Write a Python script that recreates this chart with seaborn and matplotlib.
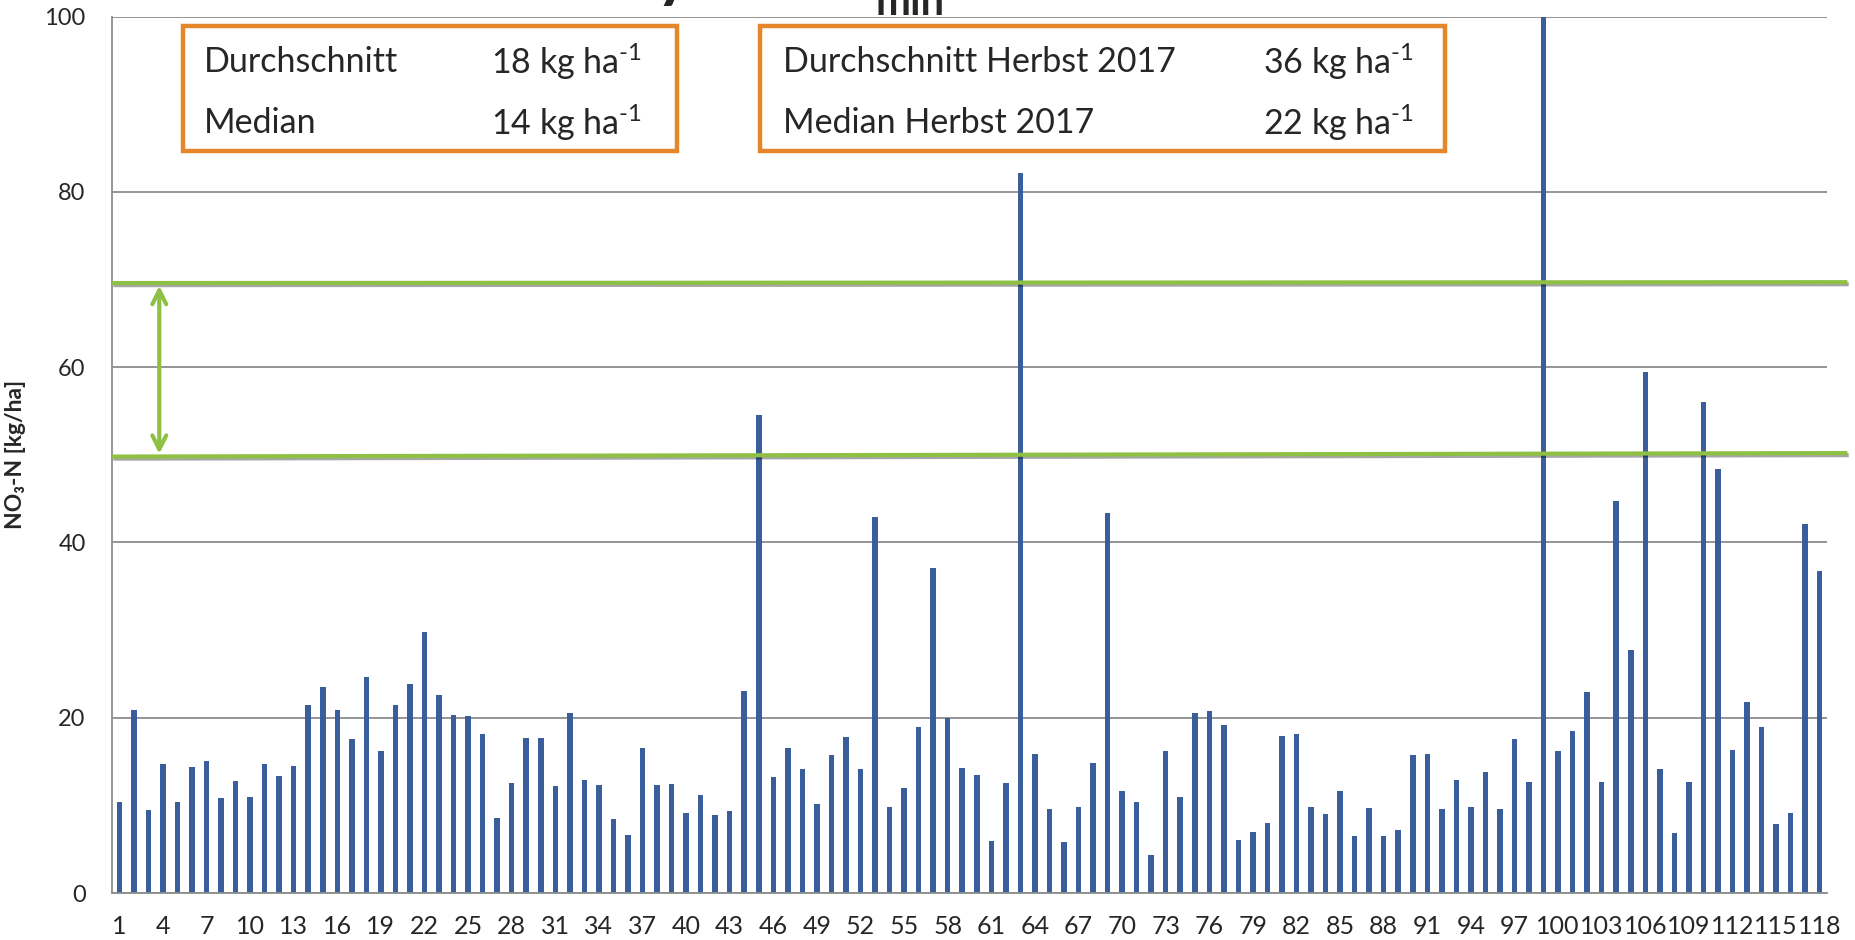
import numpy as np
import pandas as pd
import matplotlib.pyplot as plt
import seaborn as sns
from matplotlib.patches import Rectangle
from matplotlib import patheffects as pe

# Nitrate values per plot (kg/ha)
plot_ids = [str(i) for i in range(1, 119)]
no3_n = [
    10.4, 20.9, 9.5, 14.7, 10.4, 14.4, 15.1, 10.8, 12.8, 10.9,
    14.7, 13.4, 14.5, 21.5, 23.5, 20.9, 17.6, 24.7, 16.2, 21.4,
    23.8, 29.8, 22.6, 20.3, 20.2, 18.2, 8.6, 12.6, 17.7, 17.7,
    12.2, 20.5, 12.9, 12.3, 8.4, 6.6, 16.5, 12.3, 12.4, 9.1,
    11.2, 8.9, 9.3, 23.0, 54.5, 13.2, 16.5, 14.2, 10.1, 15.8,
    17.8, 14.2, 42.9, 9.8, 12.0, 18.9, 37.1, 20.0, 14.3, 13.5,
    5.9, 12.5, 82.2, 15.9, 9.6, 5.8, 9.8, 14.8, 43.4, 11.6,
    10.4, 4.3, 16.2, 11.0, 20.5, 20.8, 19.2, 6.1, 7.0, 8.0,
    17.9, 18.1, 9.8, 9.0, 11.6, 6.5, 9.7, 6.5, 7.2, 15.8,
    15.9, 9.6, 12.9, 9.8, 13.8, 9.6, 17.6, 12.7, 115.0, 16.2,
    18.5, 22.9, 12.7, 44.7, 27.7, 59.4, 14.2, 6.8, 12.7, 56.0,
    48.4, 16.3, 21.8, 18.9, 7.9, 9.1, 42.1, 36.7,
]

# Corridor lines (left value, right value)
upper_line = [69.6, 69.7]
lower_line = [49.8, 50.2]

box1_labels = ["Durchschnitt", "Median"]
box1_values = [r"18 kg ha$^{\text{-}1}$", r"14 kg ha$^{\text{-}1}$"]
box2_labels = ["Durchschnitt Herbst 2017", "Median Herbst 2017"]
box2_values = [r"36 kg ha$^{\text{-}1}$", r"22 kg ha$^{\text{-}1}$"]

df = pd.DataFrame({"Parzelle": plot_ids, "NO3N": no3_n})

sns.set_style("white")
plt.rcParams['font.family'] = ['Lato', 'DejaVu Sans']
plt.rcParams['mathtext.fontset'] = 'custom'
plt.rcParams['mathtext.rm'] = 'Lato'
plt.rcParams['mathtext.it'] = 'Lato:italic'
plt.rcParams['mathtext.bf'] = 'Lato:bold'

blue = "#3A5D9C"
green = "#8DC043"
orange = "#E6862A"
grey = "#8C8C8C"

fig = plt.figure(figsize=(18.55, 9.40), dpi=100)
ax = fig.add_axes([0.0604, 0.05, 0.9245, 0.9323])

sns.barplot(data=df, x="Parzelle", y="NO3N", color=blue, width=0.38,
            saturation=1, linewidth=0, ax=ax, zorder=3)

ax.set_xlim(-0.5, len(plot_ids) - 0.5)
ax.set_ylim(0, 100)

# y axis
ax.set_yticks(range(0, 101, 20))
ax.yaxis.grid(True, color=grey, linewidth=1.3, zorder=0)
ax.tick_params(axis='y', labelsize=17, length=9, width=1.3, color=grey, pad=10)
ax.set_ylabel("NO₃-N [kg/ha]", fontsize=16.5, fontweight='bold')
ax.yaxis.set_label_coords(-0.05, 0.5)

# x axis: labels every third plot, tick marks between categories
ax.set_xticks(range(0, len(plot_ids), 3))
ax.set_xticklabels(plot_ids[::3])
ax.set_xticks(np.arange(-0.5, len(plot_ids), 1), minor=True)
ax.tick_params(axis='x', which='major', labelsize=18, length=0, pad=16)
ax.tick_params(axis='x', which='minor', length=9, width=1.3, color=grey)
ax.set_xlabel("")

for side in ["top", "right"]:
    ax.spines[side].set_visible(False)
for side in ["left", "bottom"]:
    ax.spines[side].set_color(grey)
    ax.spines[side].set_linewidth(1.3)
    ax.spines[side].set_zorder(4)

# green corridor lines running out to the figure edge
line_x = [-0.5, 118.9]
for yy in (upper_line, lower_line):
    ax.plot(line_x, yy, color=green, lw=3,
            clip_on=False, zorder=5, solid_capstyle='butt',
            path_effects=[pe.SimpleLineShadow(offset=(1, -1.5), alpha=0.35), pe.Normal()])

ax.annotate("", xy=(2.75, lower_line[0] + 0.3), xytext=(2.75, upper_line[0] - 0.3),
            arrowprops=dict(arrowstyle="<->", color=green, lw=3,
                            mutation_scale=25, shrinkA=0, shrinkB=0),
            zorder=6)

# orange info boxes
def info_box(x0, x1, labels, values, label_x, value_x):
    ax.add_patch(Rectangle((x0, 84.7), x1 - x0, 14.2, fill=True, facecolor="white",
                           edgecolor=orange, lw=3.2, zorder=7, clip_on=False))
    for yy, lab, val in zip([94.8, 87.9], labels, values):
        ax.text(label_x, yy, lab, fontsize=24.5, va='center', ha='left', zorder=8)
        ax.text(value_x, yy, val, fontsize=24.5, va='center', ha='left', zorder=8)

info_box(4.39, 38.4, box1_labels, box1_values, 5.83, 25.58)
info_box(44.1, 91.2, box2_labels, box2_values, 45.66, 78.7)

# bottom edge of the slide title, cut off by the top of the picture
fig.text(656 / 1855, 1 + 6 / 940, "y", fontsize=48, fontweight='bold', va='baseline')
fig.text(876 / 1855, 1 - 15 / 940, "min", fontsize=30, fontweight='bold', va='baseline')

fig.savefig("out.png", dpi=100)
